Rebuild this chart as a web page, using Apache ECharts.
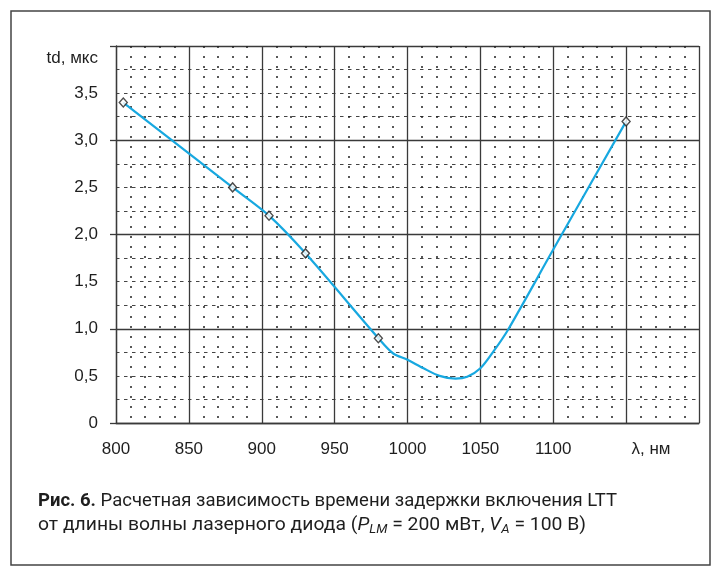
<!DOCTYPE html>
<html><head><meta charset="utf-8">
<script src="https://cdn.jsdelivr.net/npm/echarts@6/dist/echarts.min.js"></script>
<style>html,body{margin:0;padding:0;background:#fff}#c{width:716px;height:573px}</style>
</head><body><div id="c"></div>
<script>
// data
const curveX = [805, 880, 905, 930, 980, 990, 1000, 1011, 1022, 1033, 1041, 1050, 1059, 1069, 1100, 1150];
const curveY = [3.4, 2.5, 2.2, 1.8, 0.9, 0.74, 0.67, 0.58, 0.5, 0.47, 0.49, 0.58, 0.76, 0.99, 1.84, 3.2];
const markX = [805, 880, 905, 930, 980, 1150];
const markY = [3.4, 2.5, 2.2, 1.8, 0.9, 3.2];
const xTickLabels = ['800', '850', '900', '950', '1000', '1050', '1100'];
const yTickLabels = ['0', '0,5', '1,0', '1,5', '2,0', '2,5', '3,0', '3,5'];
const xName = 'λ, нм';
const yName = 'td, мкс';
const caption1Bold = 'Рис. 6.';
const caption1 = ' Расчетная зависимость времени задержки включения LTT';
const caption2a = 'от длины волны лазерного диода (';
const caption2b = ' = 200 мВт, ';
const caption2c = ' = 100 В)';

const FONT = '"Liberation Sans", Arial, sans-serif';
const CAPFONT = 'Roboto, "Liberation Sans", sans-serif';

const chart = echarts.init(document.getElementById('c'), null, {renderer: 'canvas'});

// measure caption to emulate condensed font
const cv = document.createElement('canvas').getContext('2d');
function w(t, f) { cv.font = f; return cv.measureText(t).width; }
const cs = 19, ss = 13;
const l1w = w(caption1Bold, 'bold ' + cs + 'px ' + CAPFONT) + w(caption1, cs + 'px ' + CAPFONT);
const l2w = w(caption2a + caption2b + caption2c, cs + 'px ' + CAPFONT) + w('P', 'italic ' + cs + 'px ' + CAPFONT)
  + w('V', 'italic ' + cs + 'px ' + CAPFONT) + w('LM', 'italic ' + ss + 'px ' + CAPFONT) + w('A', 'italic ' + ss + 'px ' + CAPFONT);
const sx1 = 579 / l1w;
const sx2 = 548 / l2w;

const xi = v => xTickLabels.indexOf(String(v));
const yLab = v => {
  const i = Math.round(v * 2);
  return (Math.abs(v * 2 - i) < 1e-6 && i < yTickLabels.length) ? yTickLabels[i] : '';
};

const gridLine = '#3a3a3a';
const capRich = {
  b: {fontFamily: CAPFONT, fontSize: cs, fontWeight: 'bold', fill: '#1e1e1e'},
  n: {fontFamily: CAPFONT, fontSize: cs, fill: '#1e1e1e'},
  i: {fontFamily: CAPFONT, fontSize: cs, fontStyle: 'italic', fill: '#1e1e1e'},
  s: {fontFamily: CAPFONT, fontSize: ss, fontStyle: 'italic', fill: '#1e1e1e', padding: [10, 0, 0, 0]}
};

chart.setOption({
  animation: false,
  backgroundColor: '#ffffff',
  grid: {left: 116, right: 17, top: 46, bottom: 150, containLabel: false},
  xAxis: {
    type: 'value', min: 800, max: 1200, interval: 50,
    axisLine: {show: true, onZero: false, lineStyle: {color: gridLine, width: 1.3}},
    axisTick: {show: false},
    axisLabel: {
      margin: 18, fontFamily: FONT, fontSize: 17, color: '#1e1e1e',
      formatter: v => xi(v) >= 0 ? xTickLabels[xi(v)] : ''
    },
    splitLine: {show: true, lineStyle: {color: gridLine, width: 1.3, type: 'solid'}},
    minorTick: {show: false, splitNumber: 5},
    minorSplitLine: {show: true, lineStyle: {color: '#222', width: 1.5, type: [2, 8]}}
  },
  yAxis: [{
    type: 'value', min: 0, max: 4, interval: 0.5, position: 'left',
    axisLine: {show: true, lineStyle: {color: gridLine, width: 1.3}},
    axisTick: {show: false},
    axisLabel: {margin: 18, fontFamily: FONT, fontSize: 17, color: '#1e1e1e', formatter: yLab},
    splitLine: {show: true, lineStyle: {color: '#444', width: 1, type: [3.5, 4.5]}},
    minorTick: {show: false, splitNumber: 2},
    minorSplitLine: {show: true, lineStyle: {color: '#444', width: 1, type: [3.5, 4.5]}}
  }, {
    type: 'value', min: 0, max: 4, interval: 1, position: 'left', offset: 0,
    axisLine: {show: false},
    axisTick: {show: true, inside: false, length: 6, lineStyle: {color: gridLine, width: 1.3}},
    axisLabel: {show: false},
    splitLine: {show: true, lineStyle: {color: gridLine, width: 1.3, type: 'solid'}}
  }],
  series: [{
    type: 'line', xAxisIndex: 0, yAxisIndex: 0,
    data: curveX.map((x, i) => [x, curveY[i]]),
    smooth: 0.3, showSymbol: false, symbol: 'none',
    lineStyle: {color: '#17a8e0', width: 2.2}, z: 3
  }, {
    type: 'scatter', xAxisIndex: 0, yAxisIndex: 0,
    data: markX.map((x, i) => [x, markY[i]]),
    symbol: 'diamond', symbolSize: [8, 9],
    itemStyle: {color: '#ffffff', borderColor: '#222', borderWidth: 1.4}, z: 4
  }],
  graphic: [
    {type: 'rect', shape: {x: 11, y: 11, width: 699, height: 554}, style: {fill: 'none', stroke: '#444', lineWidth: 1.5}, silent: true, z: -1},
    {type: 'text', x: 98, y: 58, style: {text: yName, fontFamily: FONT, fontSize: 17, fill: '#1e1e1e', align: 'right', verticalAlign: 'middle'}},
    {type: 'text', x: 651, y: 449, style: {text: xName, fontFamily: FONT, fontSize: 17, fill: '#1e1e1e', align: 'center', verticalAlign: 'middle'}},
    {type: 'text', x: 38, y: 501, scaleX: sx1, style: {
      text: '{b|' + caption1Bold + '}{n|' + caption1 + '}', rich: capRich, verticalAlign: 'middle', align: 'left'}},
    {type: 'text', x: 38, y: 525, scaleX: sx2, style: {
      text: '{n|' + caption2a + '}{i|P}{s|LM}{n|' + caption2b + '}{i|V}{s|A}{n|' + caption2c + '}', rich: capRich, verticalAlign: 'middle', align: 'left'}}
  ]
});
</script>
</body></html>
